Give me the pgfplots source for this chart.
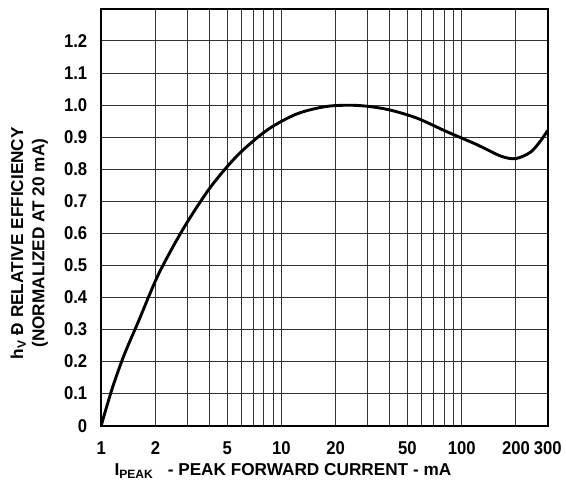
\documentclass[border=0pt]{standalone}
\usepackage{fontspec}
\setmainfont{Liberation Sans}
\newfontfamily\tickfont[FakeStretch=0.9]{Liberation Sans}
\usepackage{pgfplots}
\pgfplotsset{compat=1.18}
\begin{document}
\begin{tikzpicture}
\begin{axis}[
  name=ax,
  scale only axis,
  width=337.5pt, height=315pt,
  xmode=log,
  xmin=1, xmax=300, ymin=0, ymax=1.3,
  xtick={1,2,5,10,20,50,100,200,300},
  xticklabels={1,2,5,\raisebox{-3pt}{10},\raisebox{-3pt}{20},50,100,\raisebox{-4pt}{200},\raisebox{-3pt}{300}},
  minor xtick={3,4,6,7,8,9,30,40,60,70,80,90},
  ytick={0,0.1,0.2,0.3,0.4,0.5,0.6,0.7,0.8,0.9,1.0,1.1,1.2},
  yticklabels={0,0.1,0.2,0.3,0.4,0.5,0.6,0.7,0.8,0.9,1.0,1.1,1.2},
  /pgf/number format/assume math mode=true,
  grid=both,
  major grid style={black!80, line width=0.75pt},
  minor grid style={black!80, line width=0.75pt},
  major tick length=0pt, minor tick length=0pt,
  axis line style={black, line width=1.5pt},
  ticklabel style={font=\tickfont\fontsize{14}{16}\selectfont\bfseries},
  yticklabel style={xshift=-7pt},
  xticklabel style={yshift=-8.5pt},
  ylabel={\begin{tabular}{c}h\textsubscript{V} Ð RELATIVE EFFICIENCY\\[1pt](NORMALIZED AT 20 mA)\end{tabular}},
  ylabel style={at={(axis description cs:-0.16,0.438)}, anchor=center, rotate=0, font=\fontsize{13}{15}\selectfont\bfseries, inner sep=0pt},
  xlabel={I\textsubscript{PEAK}\ \ \ - PEAK FORWARD CURRENT - mA},
  xlabel style={at={(axis description cs:0.407,-0.108)}, anchor=center, font=\fontsize{13}{15}\selectfont\bfseries, inner sep=0pt},
]
\addplot[black, line width=2.2pt, smooth] coordinates {
(1,0) (1.145,0.112) (1.333,0.217) (1.612,0.326) (2.078,0.472) (2.852,0.614) (4.016,0.742) (5.726,0.844) (8.374,0.923) (12.25,0.973) (17.92,0.996) (26.2,0.999) (38.32,0.987) (56.04,0.960) (81.96,0.918) (119.9,0.878) (164.6,0.841) (199.0,0.833) (240.7,0.853) (273.2,0.8875) (300,0.921)
};
\end{axis}
\path ([shift={(-76.5pt,-41.25pt)}]ax.south west) rectangle ([shift={(10.5pt,6.75pt)}]ax.north east);
\end{tikzpicture}
\end{document}
